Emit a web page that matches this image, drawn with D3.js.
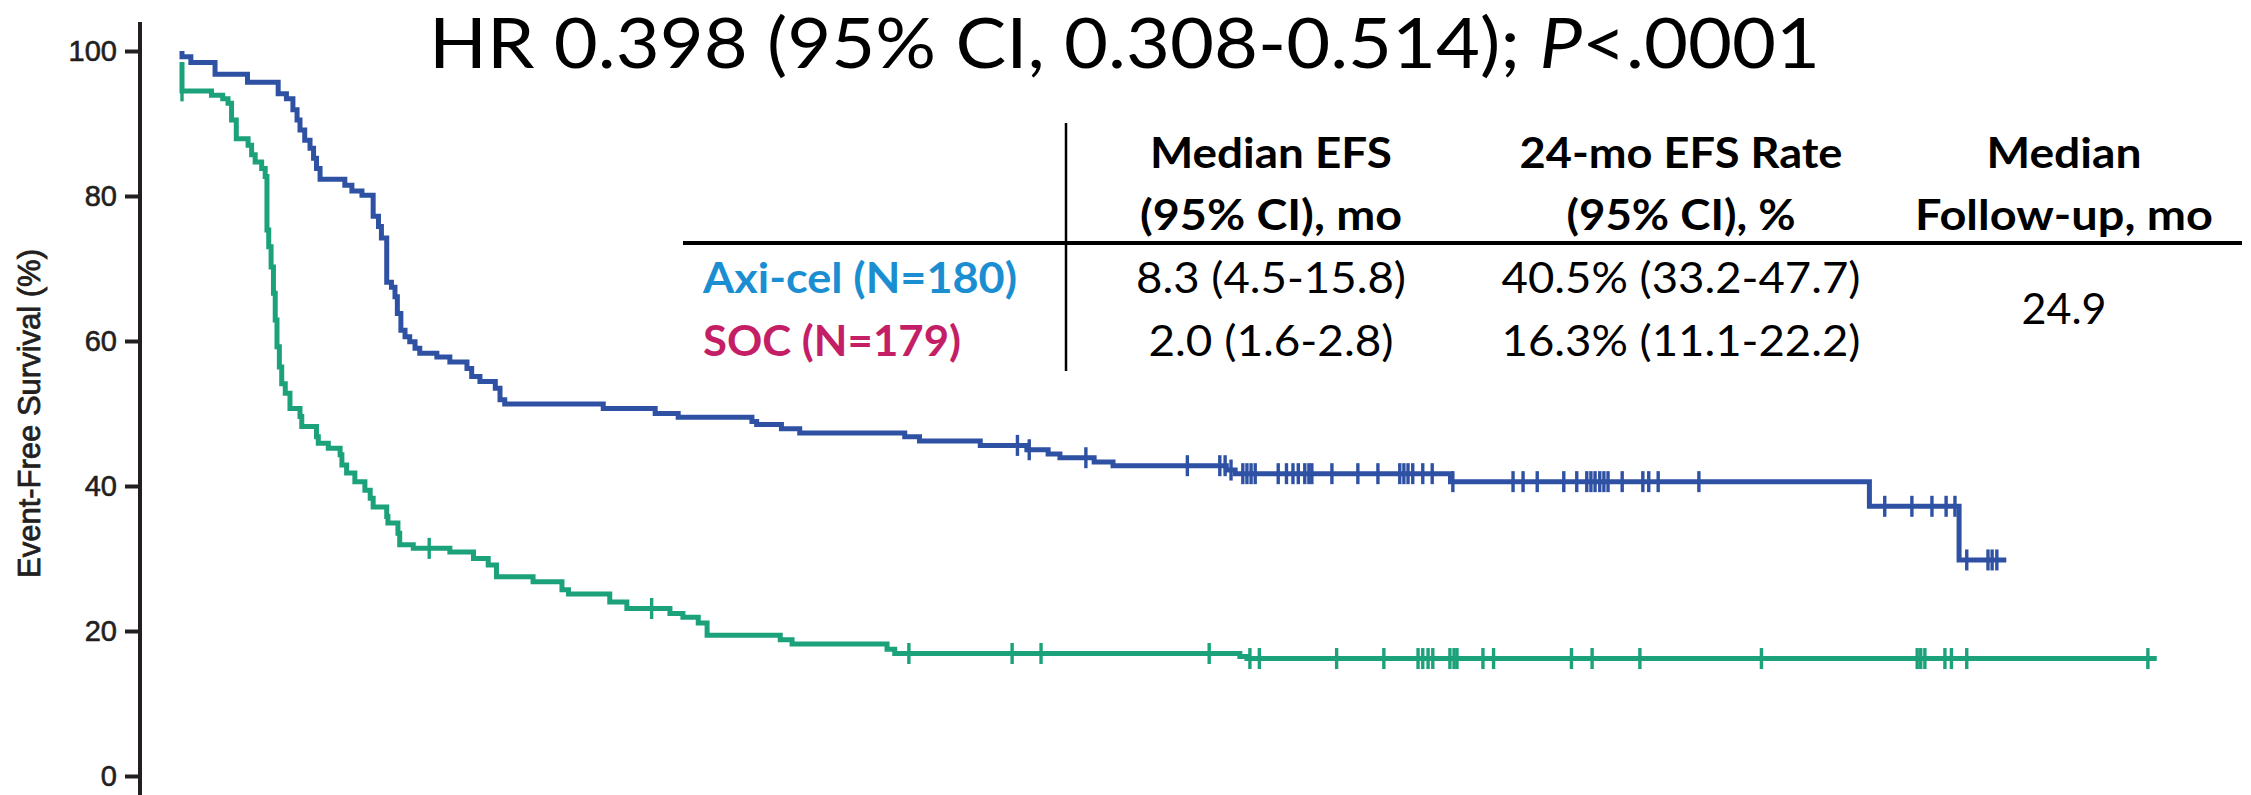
<!DOCTYPE html>
<html>
<head>
<meta charset="utf-8">
<script src="https://cdn.jsdelivr.net/npm/d3@7"></script>
<style>
  html, body { margin: 0; padding: 0; background: #fff; }
  svg { display: block; }
</style>
</head>
<body>
<div id="chart"></div>
<script>
// Event-free survival, axi-cel vs standard of care
// steps are [month, survival %], survival holds from that month on
const axicelSteps = [
  [0, 100], [0, 99.2], [0.15, 98.4], [0.56, 96.8], [1.11, 95.7], [1.63, 94.1], [1.77, 93.4],
  [1.88, 91.9], [1.95, 90.5], [2.0, 89.1], [2.08, 87.7], [2.17, 86.6], [2.23, 85.2], [2.28, 83.8],
  [2.34, 82.3], [2.76, 81.5], [2.88, 80.7], [3.05, 80.1], [3.24, 77.2], [3.33, 75.8], [3.38, 74.2],
  [3.47, 68.1], [3.55, 67.4], [3.61, 66.1], [3.65, 63.8], [3.71, 61.5], [3.78, 60.6], [3.86, 59.9],
  [3.95, 59.0], [4.03, 58.3], [4.32, 57.8], [4.54, 57.1], [4.83, 56.2], [4.91, 55.1], [5.05, 54.4],
  [5.31, 53.5], [5.39, 51.9], [5.47, 51.3], [7.14, 50.7], [8.02, 50.0], [8.41, 49.5], [9.66, 48.9],
  [9.74, 48.5], [10.16, 47.9], [10.47, 47.3], [12.25, 46.8], [12.5, 46.2], [13.53, 45.6],
  [14.32, 45.0], [14.68, 44.4], [14.88, 43.9], [15.46, 43.3], [15.78, 42.8], [17.7, 42.2],
  [17.85, 41.7], [21.5, 40.6], [28.6, 37.2], [30.12, 29.8]
];
const axicelEnd = 30.92;
const axicelCensors = [
  14.16, 14.36, 15.32, 17.04, 17.59, 17.68, 17.78, 17.98, 18.05, 18.12, 18.19, 18.58, 18.72,
  18.83, 18.92, 19.03, 19.1, 19.15, 19.49, 19.93, 20.27, 20.64, 20.71, 20.78, 20.86, 21.03,
  21.19, 21.54, 22.56, 22.73, 22.97, 23.42, 23.64, 23.81, 23.88, 23.95, 24.03, 24.1, 24.17,
  24.41, 24.76, 24.86, 25.02, 25.71, 28.86, 29.32, 29.66, 29.9, 30.05, 30.25, 30.61, 30.68, 30.76
];

const socSteps = [
  [0, 98.5], [0, 94.5], [0.5, 93.9], [0.69, 93.4], [0.78, 92.8], [0.84, 90.5], [0.92, 87.9],
  [1.12, 87.0], [1.18, 85.7], [1.24, 84.7], [1.35, 83.8], [1.41, 82.7], [1.44, 75.3], [1.47, 73.0],
  [1.51, 70.2], [1.55, 66.6], [1.58, 62.9], [1.61, 59.2], [1.65, 56.4], [1.69, 54.1], [1.75, 52.8],
  [1.83, 50.7], [2.0, 49.6], [2.03, 48.2], [2.28, 46.8], [2.31, 45.9], [2.48, 45.2], [2.68, 44.3],
  [2.71, 42.9], [2.79, 41.8], [2.93, 40.6], [3.1, 39.4], [3.19, 38.3], [3.24, 37.1], [3.47, 35.8],
  [3.49, 34.9], [3.66, 33.5], [3.69, 31.9], [3.92, 31.4], [4.54, 30.9], [4.94, 30.0], [5.19, 29.1],
  [5.33, 27.5], [5.95, 26.8], [6.44, 25.7], [6.55, 25.1], [7.25, 24.0], [7.54, 23.1], [8.27, 22.4],
  [8.49, 21.9], [8.75, 21.1], [8.9, 19.4], [10.14, 18.8], [10.34, 18.2], [11.95, 17.5],
  [12.08, 16.9], [17.93, 16.5], [18.05, 16.2]
];
const socEnd = 33.47;
const socCensors = [
  0, 4.19, 7.96, 12.32, 14.07, 14.56, 17.41, 18.1, 18.26, 19.57, 20.37, 20.95, 21.03, 21.12,
  21.2, 21.49, 21.56, 21.61, 22.05, 22.23, 23.55, 23.9, 24.71, 26.77, 29.41, 29.47, 29.54,
  29.88, 29.99, 30.25, 33.32
];

const yTicks = [0, 20, 40, 60, 80, 100];
const yLabel = "Event-Free Survival (%)";

const titleParts = [["HR 0.398 (95% CI, 0.308-0.514); ", "normal"], ["P", "italic"], ["<.0001", "normal"]];
const tableHeaders = [["Median EFS", "(95% CI), mo"], ["24-mo EFS Rate", "(95% CI), %"], ["Median", "Follow-up, mo"]];
const arms = ["Axi-cel (N=180)", "SOC (N=179)"];
const medianEFS = ["8.3 (4.5-15.8)", "2.0 (1.6-2.8)"];
const efsRate24 = ["40.5% (33.2-47.7)", "16.3% (11.1-22.2)"];
const medianFollowUp = "24.9";

(function () {
  const W = 2251, H = 795;
  const blue = "#2e51a4", green = "#1ba27a", ink = "#231f20";
  const tableFont = "Lato, 'Open Sans', sans-serif";
  const axisFont = "'Liberation Sans', Arial, sans-serif";

  const svg = d3.select("#chart").append("svg")
    .attr("width", W).attr("height", H);

  const x = d3.scaleLinear().domain([0, 36]).range([182, 182 + 36 * 59]);
  const y = d3.scaleLinear().domain([0, 100]).range([776, 51]);

  // y axis
  const yAxis = svg.append("g")
    .attr("transform", "translate(140,0)")
    .call(d3.axisLeft(y).tickValues(yTicks).tickSize(15).tickPadding(8));
  yAxis.select(".domain").remove();
  yAxis.selectAll(".tick line").attr("stroke", ink).attr("stroke-width", 4);
  yAxis.selectAll(".tick text")
    .attr("fill", ink)
    .attr("stroke", ink)
    .attr("stroke-width", 0.6)
    .style("font-family", axisFont)
    .style("font-size", "29px");
  svg.append("line")
    .attr("x1", 140).attr("x2", 140)
    .attr("y1", y(104)).attr("y2", H)
    .attr("stroke", ink).attr("stroke-width", 4);

  svg.append("text")
    .attr("transform", `translate(29,${(y(0) + y(100)) / 2}) rotate(-90)`)
    .attr("text-anchor", "middle")
    .attr("dominant-baseline", "central")
    .attr("fill", ink)
    .attr("stroke", ink)
    .attr("stroke-width", 0.8)
    .style("font-family", axisFont)
    .style("font-size", "31px")
    .text(yLabel);

  function survivalAt(steps, t) {
    let s = steps[0][1];
    steps.forEach(function (d) { if (d[0] <= t) s = d[1]; });
    return s;
  }

  const line = d3.line()
    .x(function (d) { return x(d[0]); })
    .y(function (d) { return y(d[1]); })
    .curve(d3.curveStepAfter);

  function drawArm(steps, end, censors, color) {
    const pts = steps.concat([[end, steps[steps.length - 1][1]]]);
    const g = svg.append("g");
    g.append("path")
      .attr("d", line(pts))
      .attr("fill", "none")
      .attr("stroke", color)
      .attr("stroke-width", 5);
    g.selectAll("line.censor")
      .data(censors)
      .enter()
      .append("line")
      .attr("class", "censor")
      .attr("x1", function (d) { return x(d); })
      .attr("x2", function (d) { return x(d); })
      .attr("y1", function (d) { return y(survivalAt(steps, d)) - 10.5; })
      .attr("y2", function (d) { return y(survivalAt(steps, d)) + 10.5; })
      .attr("stroke", color)
      .attr("stroke-width", 3.4);
  }

  drawArm(socSteps, socEnd, socCensors, green);
  drawArm(axicelSteps, axicelEnd, axicelCensors, blue);

  // squeeze text to the width it has in the original slide
  function fit(sel, w) {
    sel.attr("textLength", w).attr("lengthAdjust", "spacingAndGlyphs");
  }

  // title
  const title = svg.append("text")
    .attr("x", 429).attr("y", 68)
    .attr("fill", "#000")
    .style("font-family", tableFont)
    .style("font-size", "69px");
  titleParts.forEach(function (p) {
    title.append("tspan").style("font-style", p[1]).text(p[0]);
  });
  fit(title, 1391);

  // summary table
  const colX = [1271, 1681, 2064];
  const headW = [[242, 262], [323, 229], [155, 298]];
  const headY = [168, 230];
  const rowY = [293, 356];
  const armColors = ["#1b8ed2", "#c41f66"];
  const armW = [314, 258];
  const medW = [270, 245];
  const rateW = [359, 359];

  const tbl = svg.append("g")
    .style("font-family", tableFont)
    .style("font-size", "42px")
    .attr("fill", "#000");

  tableHeaders.forEach(function (h, i) {
    h.forEach(function (s, j) {
      tbl.append("text")
        .attr("x", colX[i]).attr("y", headY[j])
        .attr("text-anchor", "middle")
        .style("font-weight", "bold")
        .text(s)
        .call(fit, headW[i][j]);
    });
  });

  tbl.append("line")
    .attr("x1", 683).attr("x2", 2242)
    .attr("y1", 243).attr("y2", 243)
    .attr("stroke", "#000").attr("stroke-width", 4);
  tbl.append("line")
    .attr("x1", 1066).attr("x2", 1066)
    .attr("y1", 123).attr("y2", 371)
    .attr("stroke", "#000").attr("stroke-width", 2.5);

  arms.forEach(function (a, i) {
    tbl.append("text")
      .attr("x", 703).attr("y", rowY[i])
      .attr("fill", armColors[i])
      .style("font-weight", "bold")
      .text(a)
      .call(fit, armW[i]);
    tbl.append("text")
      .attr("x", colX[0]).attr("y", rowY[i])
      .attr("text-anchor", "middle")
      .text(medianEFS[i])
      .call(fit, medW[i]);
    tbl.append("text")
      .attr("x", colX[1]).attr("y", rowY[i])
      .attr("text-anchor", "middle")
      .text(efsRate24[i])
      .call(fit, rateW[i]);
  });

  tbl.append("text")
    .attr("x", colX[2]).attr("y", 324)
    .attr("text-anchor", "middle")
    .text(medianFollowUp)
    .call(fit, 85);
})();
</script>
</body>
</html>
